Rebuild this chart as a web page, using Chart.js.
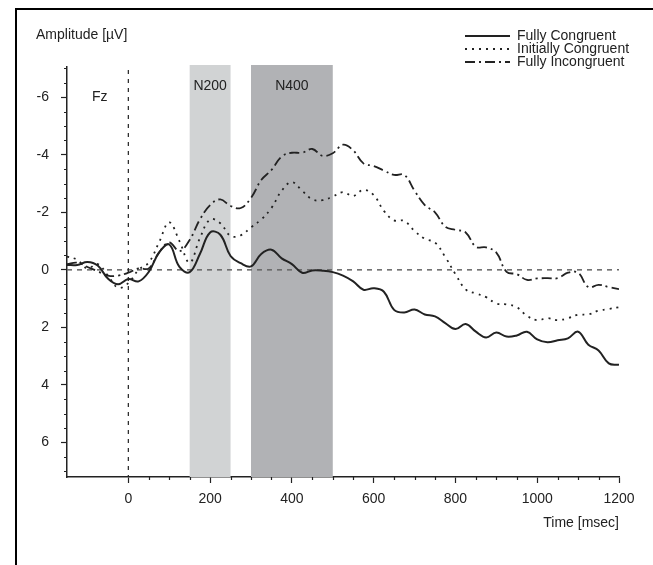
<!DOCTYPE html>
<html>
<head>
<meta charset="utf-8">
<script src="https://cdn.jsdelivr.net/npm/chart.js@4/dist/chart.umd.min.js"></script>
<style>
  body { margin: 0; background: #fff; }
  canvas { display: block; }
</style>
</head>
<body>
<canvas id="erpChart" width="653" height="565"></canvas>
<script>
// time axis (ms) and the three grand averages at Fz (µV, negative up)
const times = [-150, -125, -100, -75, -50, -25, 0, 25, 50, 75, 100, 125, 150, 175, 200, 225, 250, 275, 300, 325,
  350, 375, 400, 425, 450, 475, 500, 525, 550, 575, 600, 625, 650, 675, 700, 725, 750, 775, 800, 825,
  850, 875, 900, 925, 950, 975, 1000, 1025, 1050, 1075, 1100, 1125, 1150, 1175, 1200];

const fullyCongruent = [-0.17, -0.17, -0.27, -0.15, 0.3, 0.5, 0.32, 0.4, 0.07, -0.6, -0.88, -0.1, 0.08, -0.55, -1.3, -1.22,
  -0.48, -0.23, -0.12, -0.55, -0.7, -0.4, -0.2, 0.1, 0.02, 0.03, 0.08, 0.2, 0.4, 0.69, 0.64, 0.76, 1.39, 1.48, 1.38,
  1.55, 1.62, 1.85, 2.06, 1.88, 2.15, 2.35, 2.18, 2.32, 2.28, 2.15, 2.42, 2.52, 2.45, 2.38, 2.15, 2.6, 2.8, 3.25, 3.3];

const initiallyCongruent = [-0.46, -0.35, -0.05, -0.2, 0.2, 0.62, 0.46, 0.0, -0.25, -0.95, -1.65, -1.0, -0.25, -1.1,
  -1.75, -1.62, -1.18, -1.2, -1.48, -1.75, -2.15, -2.75, -3.05, -2.75, -2.45, -2.42, -2.55, -2.7, -2.57, -2.78, -2.6,
  -2.05, -1.72, -1.7, -1.35, -1.08, -0.95, -0.45, 0.15, 0.68, 0.82, 0.95, 1.17, 1.2, 1.3, 1.6, 1.75, 1.68, 1.75, 1.68,
  1.56, 1.55, 1.42, 1.36, 1.3];

const fullyIncongruent = [-0.2, -0.25, -0.1, 0.05, 0.2, 0.2, 0.1, -0.05, -0.05, -0.6, -0.95, -0.65, -1.04, -1.75,
  -2.25, -2.45, -2.22, -2.15, -2.5, -3.12, -3.47, -3.94, -4.07, -4.07, -4.2, -3.96, -4.05, -4.35, -4.15, -3.7, -3.61,
  -3.45, -3.3, -3.3, -2.75, -2.25, -2.0, -1.5, -1.39, -1.3, -0.8, -0.78, -0.6, 0.07, 0.15, 0.35, 0.3, 0.29, 0.29, 0.1,
  0.1, 0.6, 0.52, 0.6, 0.67];

const seriesNames = ['Fully Congruent', 'Initially Congruent', 'Fully Incongruent'];
const xTickValues = [0, 200, 400, 600, 800, 1000, 1200];
const yTickValues = [-6, -4, -2, 0, 2, 4, 6];

// analysis windows
const windowNames = ['N200', 'N400'];
const windowStart = [150, 300];
const windowEnd = [250, 500];

const ink = '#222';
const font = '14px "Liberation Sans", Arial, sans-serif';
const windowColors = ['#d1d3d4', '#b1b2b5'];
const dashes = [[], [2, 5], [10, 4, 2, 4]];

const decorations = {
  id: 'decorations',
  beforeDatasetsDraw(chart) {
    const { ctx, chartArea: a, scales: { x, y } } = chart;
    ctx.save();
    ctx.font = font;
    ctx.textAlign = 'center';
    ctx.textBaseline = 'middle';
    windowNames.forEach((name, i) => {
      const x0 = x.getPixelForValue(windowStart[i]);
      const x1 = x.getPixelForValue(windowEnd[i]);
      ctx.fillStyle = windowColors[i];
      ctx.fillRect(x0, a.top - 2, x1 - x0, a.bottom - a.top + 2);
      ctx.fillStyle = ink;
      ctx.fillText(name, (x0 + x1) / 2, 86);
    });
    ctx.fillText('Fz', x.getPixelForValue(-70), 97);

    // baseline and stimulus onset
    ctx.lineWidth = 1.5;
    ctx.strokeStyle = '#666';
    ctx.setLineDash([5, 5]);
    ctx.beginPath();
    ctx.moveTo(a.left, y.getPixelForValue(0));
    ctx.lineTo(a.right, y.getPixelForValue(0));
    ctx.stroke();
    ctx.strokeStyle = ink;
    ctx.lineWidth = 1.2;
    ctx.setLineDash([4, 5]);
    ctx.beginPath();
    ctx.moveTo(x.getPixelForValue(0), a.top + 3);
    ctx.lineTo(x.getPixelForValue(0), a.bottom);
    ctx.stroke();
    ctx.restore();
  },
  afterDraw(chart) {
    const { ctx, chartArea: a, scales: { x, y } } = chart;
    ctx.save();
    ctx.strokeStyle = ink;
    ctx.lineWidth = 1.2;
    // minor ticks
    ctx.beginPath();
    for (let v = -7; v <= 7; v += 0.5) {
      if (v % 2 === 0) continue;
      const py = Math.round(y.getPixelForValue(v)) + 0.5;
      ctx.moveTo(a.left - 3, py);
      ctx.lineTo(a.left, py);
    }
    for (let v = 0; v <= 1200; v += 50) {
      if (v % 200 === 0) continue;
      const px = Math.round(x.getPixelForValue(v)) + 0.5;
      ctx.moveTo(px, a.bottom);
      ctx.lineTo(px, a.bottom + 3);
    }
    ctx.stroke();

    ctx.fillStyle = ink;
    ctx.font = font;
    ctx.textBaseline = 'middle';
    ctx.textAlign = 'left';
    ctx.fillText('Amplitude [\u00b5V]', 36, 35);
    ctx.textAlign = 'right';
    ctx.fillText('Time [msec]', a.right, 523);

    // legend
    ctx.textAlign = 'left';
    seriesNames.forEach((name, i) => {
      const ly = 36 + i * 13;
      ctx.setLineDash(dashes[i]);
      ctx.lineWidth = i === 0 ? 2 : 1.8;
      ctx.beginPath();
      ctx.moveTo(465, ly);
      ctx.lineTo(510, ly);
      ctx.stroke();
      ctx.fillText(name, 517, ly);
    });

    // frame
    ctx.setLineDash([]);
    ctx.lineWidth = 2;
    ctx.strokeStyle = '#000';
    ctx.beginPath();
    ctx.moveTo(16, 565);
    ctx.lineTo(16, 9);
    ctx.lineTo(653, 9);
    ctx.stroke();
    ctx.restore();
  }
};

const series = [fullyCongruent, initiallyCongruent, fullyIncongruent];

new Chart(document.getElementById('erpChart'), {
  type: 'line',
  data: {
    datasets: series.map((vals, i) => ({
      label: seriesNames[i],
      data: times.map((t, j) => ({ x: t, y: vals[j] })),
      borderColor: ink,
      borderWidth: i === 0 ? 2 : 1.8,
      borderDash: dashes[i],
      fill: false
    }))
  },
  options: {
    responsive: false,
    animation: false,
    layout: { padding: { left: 0, right: 34, top: 67, bottom: 0 } },
    elements: { point: { radius: 0 }, line: { tension: 0.4 } },
    plugins: { legend: { display: false }, tooltip: { enabled: false } },
    scales: {
      x: {
        type: 'linear',
        min: -150,
        max: 1200,
        afterBuildTicks: s => { s.ticks = xTickValues.map(v => ({ value: v })); },
        afterFit: s => { s.height = 88; },
        grid: { drawOnChartArea: false, tickLength: 6, tickColor: ink, tickWidth: 1.2 },
        border: { color: ink, width: 1.5 },
        ticks: {
          color: ink,
          font: { family: '"Liberation Sans", Arial', size: 14 },
          padding: 8,
          maxRotation: 0,
          callback: v => String(v)
        }
      },
      y: {
        min: -7.05,
        max: 7.2,
        reverse: true,
        afterBuildTicks: s => { s.ticks = yTickValues.map(v => ({ value: v })); },
        afterFit: s => { s.width = 67; },
        grid: { drawOnChartArea: false, tickLength: 6, tickColor: ink, tickWidth: 1.2 },
        border: { color: ink, width: 1.5 },
        ticks: {
          color: ink,
          font: { family: '"Liberation Sans", Arial', size: 14 },
          padding: 12,
          callback: v => String(v)
        }
      }
    }
  },
  plugins: [decorations]
});
</script>
</body>
</html>
